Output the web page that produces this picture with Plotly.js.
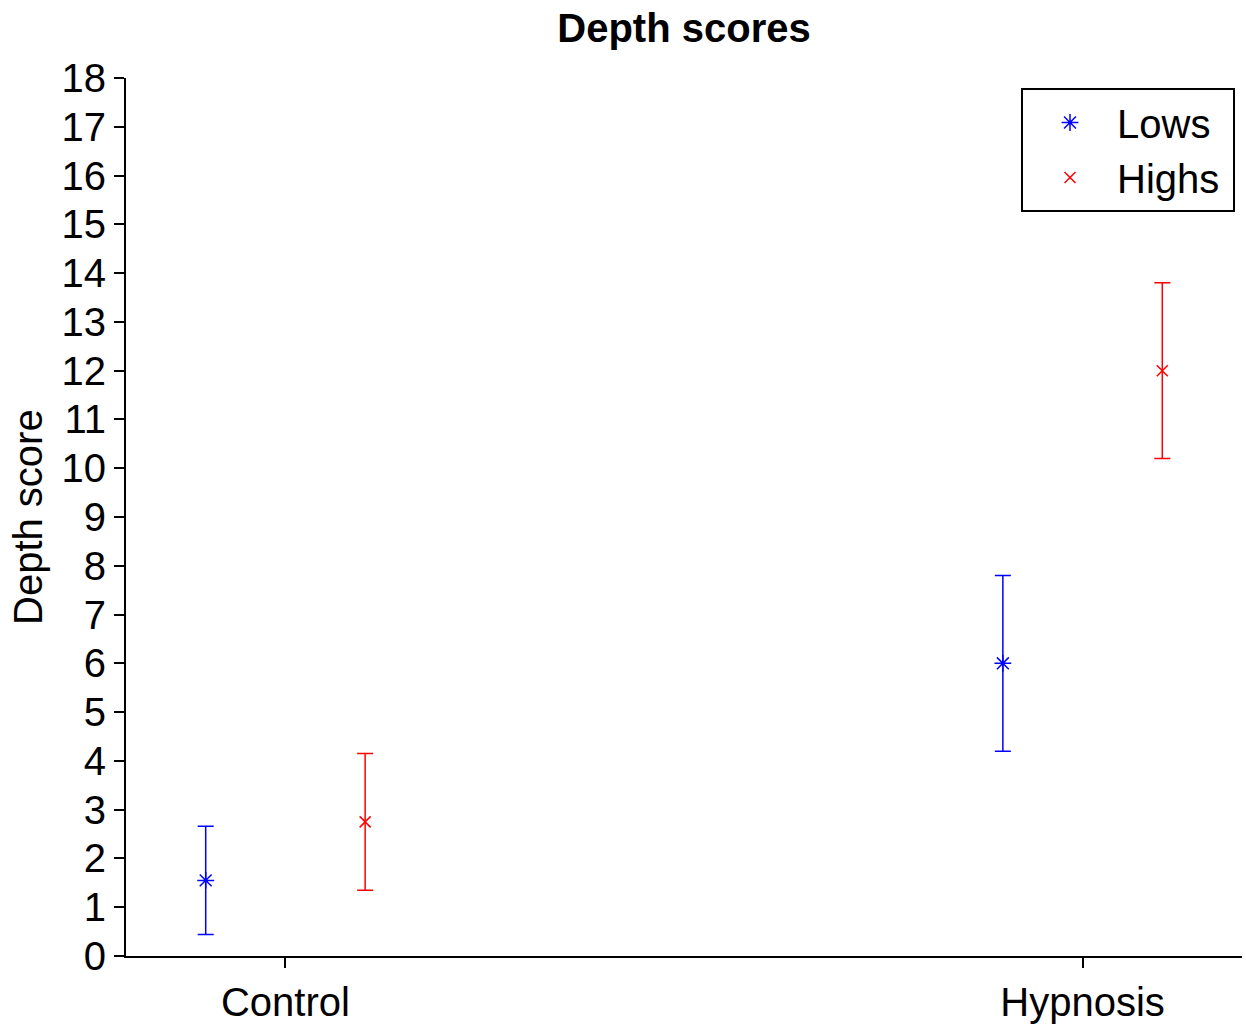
<!DOCTYPE html>
<html>
<head>
<meta charset="utf-8">
<script src="https://cdn.plot.ly/plotly-3.0.1.min.js"></script>
<style>html,body{margin:0;padding:0;background:#fff;}#chart{width:1246px;height:1027px;}</style>
</head>
<body>
<div id="chart"></div>
<script>
const categories = ['Control', 'Hypnosis'];
const lowsMean = [1.55, 6.0];
const lowsErr = [1.11, 1.8];
const highsMean = [2.75, 12.0];
const highsErr = [1.4, 1.8];
const yTicks = [0,1,2,3,4,5,6,7,8,9,10,11,12,13,14,15,16,17,18];
const seriesNames = ['Lows', 'Highs\u2009'];

const FONT = 'Liberation Sans, Arial, sans-serif';

const traces = [
  {
    type: 'scatter', mode: 'markers', name: seriesNames[0],
    x: categories, y: lowsMean,
    marker: {symbol: 'asterisk-open', size: 14, color: '#0000ff', line: {color: '#0000ff', width: 1.5}},
    error_y: {type: 'data', array: lowsErr, visible: true, color: '#0000ff', thickness: 1.5, width: 8}
  },
  {
    type: 'scatter', mode: 'markers', name: seriesNames[1],
    x: categories, y: highsMean,
    marker: {symbol: 'x-thin-open', size: 11, color: '#ff0000', line: {color: '#ff0000', width: 1.5}},
    error_y: {type: 'data', array: highsErr, visible: true, color: '#ff0000', thickness: 1.5, width: 8}
  }
];

const layout = {
  width: 1246, height: 1027,
  paper_bgcolor: '#ffffff', plot_bgcolor: '#ffffff',
  margin: {l: 126, r: 4, t: 78, b: 71},
  scattermode: 'group', scattergap: 0.6,
  font: {family: FONT, color: '#000', size: 40},
  title: {text: '<b>Depth scores</b>', font: {family: FONT, size: 40, color: '#000'},
          x: 0.5, xref: 'paper', y: 1 - 28/1027, yref: 'container', yanchor: 'middle'},
  xaxis: {
    type: 'category', range: [-0.2, 1.2],
    showline: true, linecolor: '#000', linewidth: 2,
    ticks: 'outside', ticklen: 10, tickwidth: 2, tickcolor: '#000',
    showgrid: false, zeroline: false,
    tickfont: {family: FONT, size: 40, color: '#000'}
  },
  yaxis: {
    range: [0, 18], tickvals: yTicks, ticktext: yTicks.map(String),
    showline: true, linecolor: '#000', linewidth: 2,
    ticks: 'outside', ticklen: 10, tickwidth: 2, tickcolor: '#000',
    showgrid: false, zeroline: false,
    tickfont: {family: FONT, size: 40, color: '#000'}
  },
  annotations: [{
    text: 'Depth score', textangle: -90, showarrow: false,
    xref: 'paper', yref: 'paper', x: -(126 - 28) / 1116, y: 0.5,
    xanchor: 'center', yanchor: 'middle',
    font: {family: FONT, size: 40, color: '#000'}
  }],
  showlegend: true,
  legend: {
    x: (1021 - 126) / 1116, y: 1 - (88 - 78) / 878, xanchor: 'left', yanchor: 'top',
    bordercolor: '#000', borderwidth: 2, bgcolor: '#fff',
    font: {family: FONT, size: 40, color: '#000'},
    itemwidth: 84
  }
};

Plotly.newPlot('chart', traces, layout, {displayModeBar: false, staticPlot: true});
</script>
</body>
</html>
